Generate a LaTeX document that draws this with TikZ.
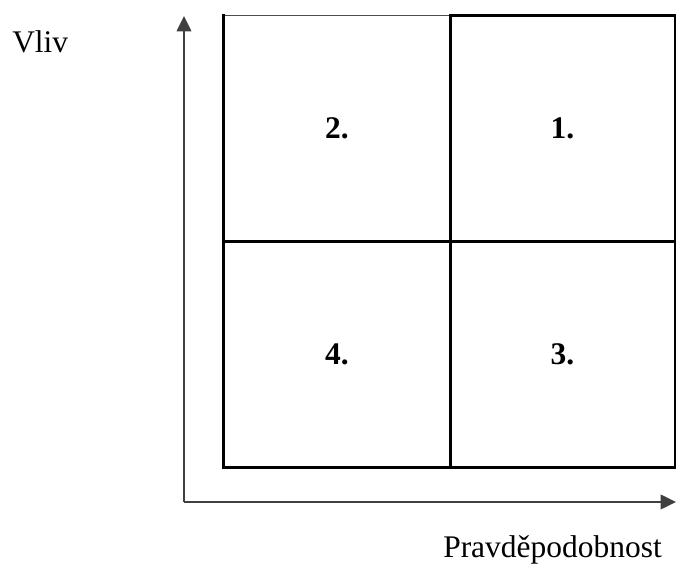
\documentclass[tikz,border=0pt]{standalone}
\usepackage{fontspec}
\setmainfont{Liberation Serif}
\usepackage{tikz}
\usetikzlibrary{arrows.meta,positioning,calc}

\newcommand{\bigtext}{\fontsize{23.6}{28}\selectfont}

\tikzset{
  cell/.style={rectangle, inner sep=0pt, minimum width=226*0.75pt,
    minimum height=225*0.75pt, font=\bigtext\bfseries},
  gridline/.style={line width=2.25pt, black, line cap=rect},
  axis/.style={line width=1.1pt, black!75,
    -{Triangle[length=11.5pt, width=11pt]}},
}

\begin{document}
\begin{tikzpicture}[x=0.75pt, y=0.75pt, font=\bigtext]
    \useasboundingbox (0,0) rectangle (676,567);
    % axes
    \coordinate (O) at (184,65);
    \coordinate (ytip) at (184,551);
    \coordinate (xtip) at (676,65);
    \draw[axis] (O) -- (ytip);
    \draw[axis] (O) -- (xtip);
    \node[anchor=base west, inner sep=0pt] (vliv) at (12,514) {Vliv};
    \node[anchor=base west, inner sep=0pt] (prav) at (443,9) {Pravděpodobnost};
    % quadrants
    \node[cell] (q2) at (337,438.5) {2.};
    \node[cell] (q1) at (562.5,438.5) {1.};
    \node[cell] (q4) at (337,212.5) {4.};
    \node[cell] (q3) at (562.5,212.5) {3.};
    \draw[line width=0.75pt, black!70] (q2.north west) -- (q2.north east);
    \draw[gridline] (q2.north east) -- (q1.north east) -- (q3.south east)
        -- (q4.south west) -- (q2.north west);
    \draw[gridline] (q2.south west) -- (q1.south east);
    \draw[gridline] (q2.north east) -- (q4.south east);
\end{tikzpicture}
\end{document}
